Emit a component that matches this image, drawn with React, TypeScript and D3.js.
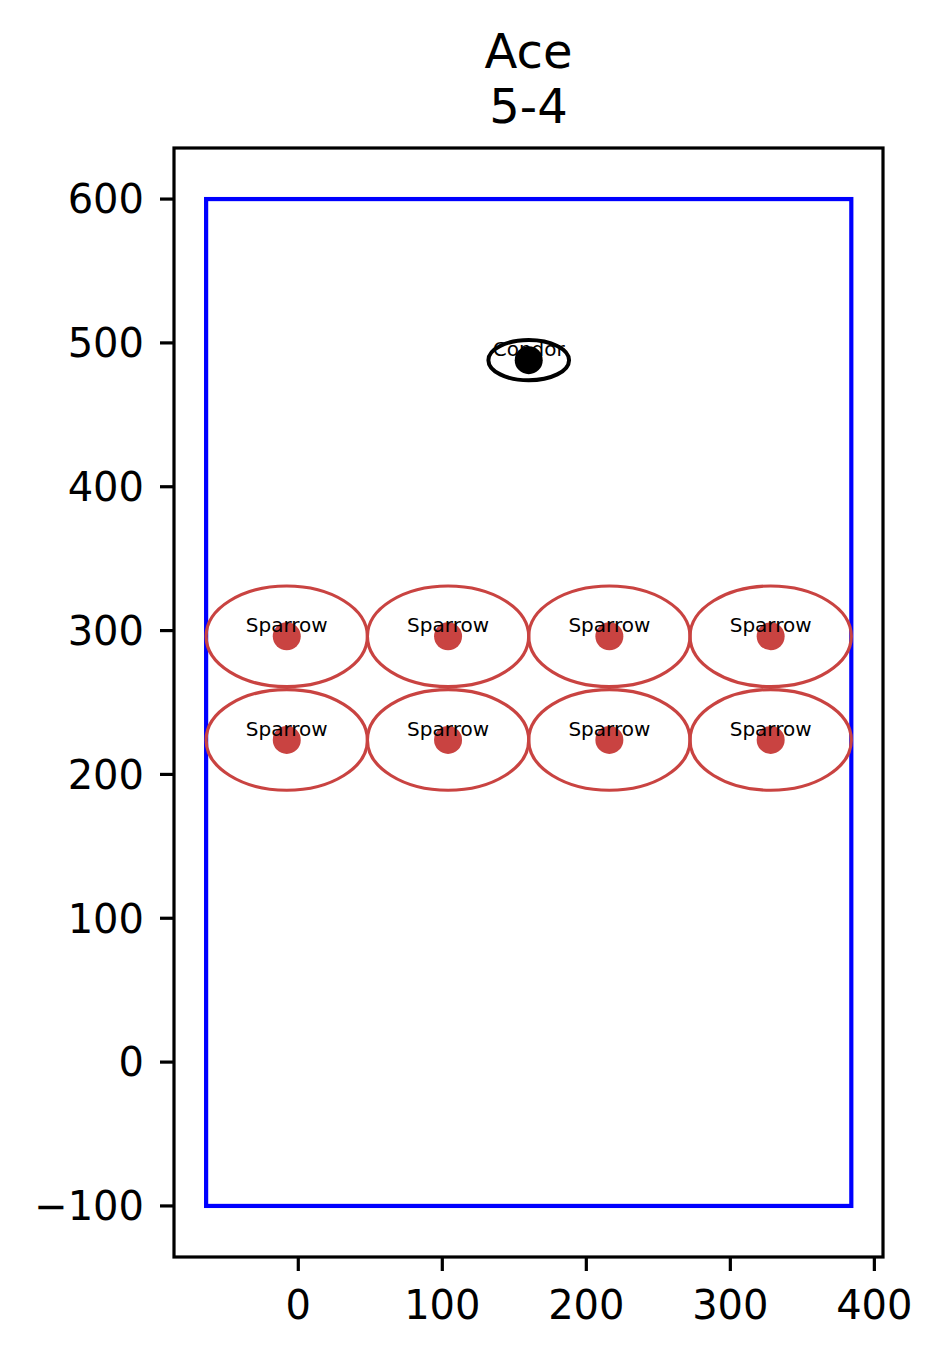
import * as d3 from "d3"

// chart data
const titleLines = ["Ace", "5-4"]
const birdNames = ["Condor", "Sparrow", "Sparrow", "Sparrow", "Sparrow", "Sparrow", "Sparrow", "Sparrow", "Sparrow"]
const birdX = [160, -8, 104, 216, 328, -8, 104, 216, 328]
const birdY = [488, 296, 296, 296, 296, 224, 224, 224, 224]
const zoneW = [56, 112, 112, 112, 112, 112, 112, 112, 112]
const zoneH = [28, 70, 70, 70, 70, 70, 70, 70, 70]
const fieldX = [-64, 384]
const fieldY = [-100, 600]
const xTicks = [0, 100, 200, 300, 400]
const yTicks = [-100, 0, 100, 200, 300, 400, 500, 600]
const xDomain = [-86.3, 406]
const yDomain = [-135.5, 635.5]

const birdColor: Record<string, string> = { Condor: "#000000", Sparrow: "#c94341" }

const W = 943
const H = 1358
const plot = { left: 174, right: 883, top: 148, bottom: 1257 }
const font = "DejaVu Sans, sans-serif"

export default function App() {
  const x = d3.scaleLinear().domain(xDomain).range([plot.left, plot.right])
  const y = d3.scaleLinear().domain(yDomain).range([plot.bottom, plot.top])
  const fmt = (v: number) => (v < 0 ? "\u2212" + Math.abs(v) : String(v))
  const cx = (plot.left + plot.right) / 2

  return (
    <svg
      width={W}
      height={H}
      style={{ position: "absolute", left: 0, top: 0, background: "#fff" }}
      fontFamily={font}
    >
      <rect x={0} y={0} width={W} height={H} fill="#fff" />

      {/* title */}
      {titleLines.map((t, i) => (
        <text key={t} x={cx} y={68 + i * 55} textAnchor="middle" fontSize={48} fill="#000">
          {t}
        </text>
      ))}

      {/* field boundary */}
      <rect
        x={x(fieldX[0])}
        y={y(fieldY[1])}
        width={x(fieldX[1]) - x(fieldX[0])}
        height={y(fieldY[0]) - y(fieldY[1])}
        fill="none"
        stroke="#0000ff"
        strokeWidth={4.2}
      />

      {/* birds */}
      {birdNames.map((name, i) => {
        const c = birdColor[name]
        const px = x(birdX[i])
        const py = y(birdY[i])
        return (
          <g key={i}>
            <ellipse
              cx={px}
              cy={py}
              rx={(x(zoneW[i]) - x(0)) / 2}
              ry={(y(0) - y(zoneH[i])) / 2}
              fill="none"
              stroke={c}
              strokeWidth={name === "Condor" ? 4 : 3.2}
            />
            <circle cx={px} cy={py} r={14} fill={c} />
            <text x={px} y={py - 4} textAnchor="middle" fontSize={20} fill="#000">
              {name}
            </text>
          </g>
        )
      })}

      {/* frame */}
      <rect
        x={plot.left}
        y={plot.top}
        width={plot.right - plot.left}
        height={plot.bottom - plot.top}
        fill="none"
        stroke="#000"
        strokeWidth={3.2}
      />

      {/* x axis */}
      {xTicks.map((t) => (
        <g key={t}>
          <line x1={x(t)} x2={x(t)} y1={plot.bottom} y2={plot.bottom + 14} stroke="#000" strokeWidth={3.2} />
          <text x={x(t)} y={plot.bottom + 62} textAnchor="middle" fontSize={40} fill="#000">
            {fmt(t)}
          </text>
        </g>
      ))}

      {/* y axis */}
      {yTicks.map((t) => (
        <g key={t}>
          <line x1={plot.left - 14} x2={plot.left} y1={y(t)} y2={y(t)} stroke="#000" strokeWidth={3.2} />
          <text x={plot.left - 30} y={y(t)} dy="0.36em" textAnchor="end" fontSize={40} fill="#000">
            {fmt(t)}
          </text>
        </g>
      ))}
    </svg>
  )
}
